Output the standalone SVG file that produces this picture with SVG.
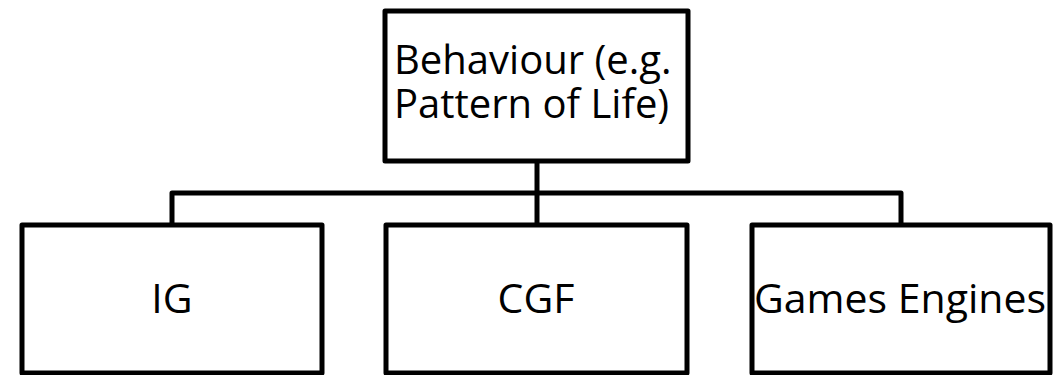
<svg xmlns="http://www.w3.org/2000/svg" width="1057" height="375" viewBox="0 0 1057 375">
  <style>
    .box { fill: #ffffff; stroke: #000000; stroke-width: 5; stroke-linejoin: round; }
    .wire { fill: none; stroke: #000000; stroke-width: 5; stroke-linejoin: round; }
    .label { font-family: "Open Sans", "Liberation Sans", sans-serif; font-size: 41px; fill: #000000; }
    .title { font-size: 40px; }
  </style>
  <rect x="0" y="0" width="1057" height="375" fill="#ffffff"/>

  <!-- tree connectors: parent stem, bus bar, child drops -->
  <g id="connectors">
    <path class="wire" d="M537,161 V193"/>
    <path class="wire" d="M172,225 V193 H901 V225"/>
    <path class="wire" d="M537,193 V225"/>
  </g>

  <g id="node-behaviour">
    <rect class="box" x="385" y="11" width="303" height="150"/>
    <!-- two-line label kept in one text element -->
    <text class="label title"><tspan x="394" y="74">Behaviour (e.g.</tspan><tspan x="394" y="118">Pattern of Life)</tspan></text>
  </g>

  <g id="node-ig">
    <rect class="box" x="22" y="225" width="300" height="148"/>
    <text class="label" x="172" y="313" text-anchor="middle">IG</text>
  </g>

  <g id="node-cgf">
    <rect class="box" x="386" y="225" width="301" height="148"/>
    <text class="label" x="536" y="313" text-anchor="middle">CGF</text>
  </g>

  <g id="node-games">
    <rect class="box" x="752" y="225" width="298" height="148"/>
    <text class="label" x="900" y="313" text-anchor="middle">Games Engines</text>
  </g>
</svg>
